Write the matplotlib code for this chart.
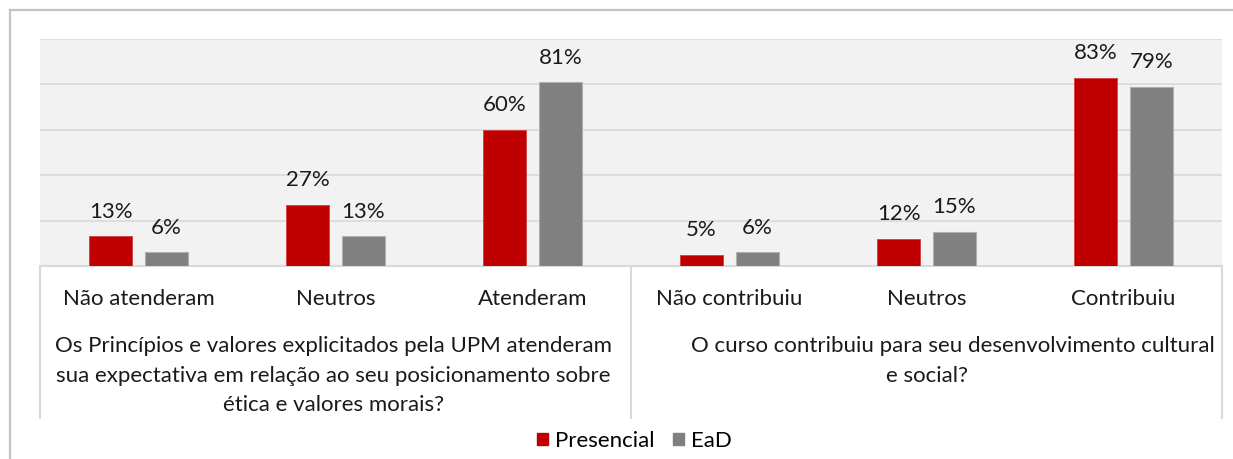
import matplotlib
matplotlib.use("Agg")
import matplotlib.pyplot as plt
from matplotlib.patches import Patch
from matplotlib.lines import Line2D
import numpy as np

# ---- data -------------------------------------------------------------
categories = ["Não atenderam", "Neutros", "Atenderam",
              "Não contribuiu", "Neutros", "Contribuiu"]
presencial = [13, 27, 60, 5, 12, 83]
ead = [6, 13, 81, 6, 15, 79]
series_names = ["Presencial", "EaD"]
group_q1 = ["Os Princípios e valores explicitados pela UPM atenderam",
            "sua expectativa em relação ao seu posicionamento sobre",
            "ética e valores morais?"]
group_q2 = ["O curso contribuiu para seu desenvolvimento cultural",
            "e social?"]

# ---- style ------------------------------------------------------------
RED = "#c00000"
GRAY = "#808080"
GRID = "#d9d9d9"
BG = "#f2f2f2"
FONT = "Lato"
FS = 16

W, H, DPI = 1233, 459, 100
fig = plt.figure(figsize=(W / DPI, H / DPI), dpi=DPI)
plt.rcParams["font.family"] = [FONT, "DejaVu Sans"]

# plot box in pixel terms
px_left, px_right, px_top, px_base = 40, 1222, 39, 266
ax = fig.add_axes([px_left / W, 1 - px_base / H,
                   (px_right - px_left) / W, (px_base - px_top) / H])
ax.set_facecolor(BG)

def ay(y_px):
    """pixel row -> axes fraction (relative to the plot box)"""
    return (px_base - y_px) / (px_base - px_top)

x = np.arange(len(categories))
bw = 0.223
off = 0.142
bars_p = ax.bar(x - off, presencial, bw, color=RED, edgecolor="#d04040",
                linewidth=0.6, zorder=3)
bars_e = ax.bar(x + off, ead, bw, color=GRAY, edgecolor="#b0b0b0",
                linewidth=0.8, zorder=3)

for bars, vals in ((bars_p, presencial), (bars_e, ead)):
    for b, v in zip(bars, vals):
        ax.annotate(f"{v}%", (b.get_x() + b.get_width() / 2, v),
                    xytext=(0, 13.3), textcoords="offset points",
                    ha="center", va="baseline", fontsize=FS, color="#1a1a1a")

ax.set_xlim(-0.5, len(categories) - 0.5)
ax.set_ylim(0, 100)
ax.set_yticks([0, 20, 40, 60, 80, 100])
ax.yaxis.grid(True, color=GRID, linewidth=1.2, zorder=0)
ax.set_axisbelow(True)
ax.tick_params(left=False, labelleft=False, bottom=False, labelbottom=False)
for s in ("left", "right", "top"):
    ax.spines[s].set_visible(False)
ax.spines["bottom"].set_color(GRID)
ax.spines["bottom"].set_linewidth(1.5)

tr = ax.get_xaxis_transform()

# category labels
for i, c in enumerate(categories):
    ax.text(i, ay(305), c, transform=tr, ha="center", va="baseline",
            fontsize=FS, color="#1a1a1a", clip_on=False)

# group separators below the plot box
y_low = ay(418)
for xs in (-0.5, 2.5, 5.5):
    ax.add_line(Line2D([xs, xs], [0, y_low], transform=tr, color=GRID,
                       linewidth=1.5, clip_on=False))

# group titles
line_base = [352, 381.5, 411]
for k, line in enumerate(group_q1):
    ax.text(0.99, ay(line_base[k]), line, transform=tr, ha="center",
            va="baseline", fontsize=FS, color="#1a1a1a", clip_on=False)
q2_centres = [4.135, 4.0]
for k, line in enumerate(group_q2):
    ax.text(q2_centres[k], ay(line_base[k]), line, transform=tr,
            ha="center", va="baseline", fontsize=FS, color="#1a1a1a",
            clip_on=False)

# legend
handles = [Patch(facecolor=RED, edgecolor=RED),
           Patch(facecolor=GRAY, edgecolor=GRAY)]
fig.legend(handles, series_names, loc="center",
           bbox_to_anchor=(634.5 / W, 1 - 441 / H), ncol=2, frameon=False,
           fontsize=FS, handlelength=0.5, handleheight=0.5,
           handletextpad=0.3, columnspacing=0.85)

# outer chart frame (left and top edges)
frame_kw = dict(color="#c4c4c4", linewidth=1.6, transform=fig.transFigure)
fig.add_artist(Line2D([9.5 / W, 9.5 / W], [0, 1 - 10 / H], **frame_kw))
fig.add_artist(Line2D([9.5 / W, 1], [1 - 10 / H, 1 - 10 / H], **frame_kw))

fig.savefig("out.png", dpi=DPI, facecolor="white")
